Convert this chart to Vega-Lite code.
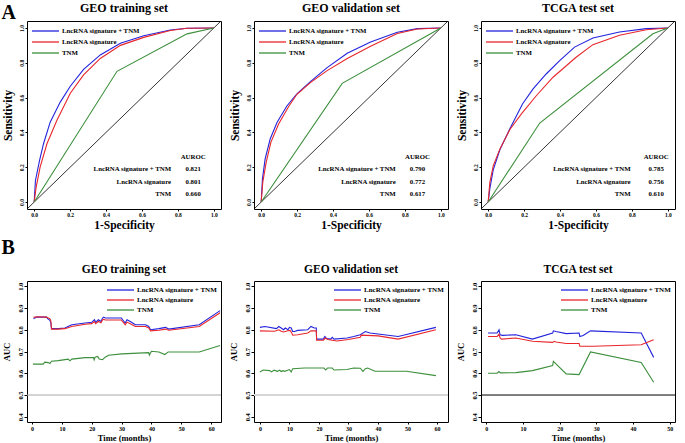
{
 "$schema": "https://vega.github.io/schema/vega-lite/v6.json",
 "background": "white",
 "padding": {"left": 1, "top": 1, "right": 2, "bottom": 1},
 "config": {
  "view": {"stroke": "black", "strokeWidth": 1},
  "font": "Liberation Serif",
  "axis": {"domain": false, "grid": false, "ticks": true, "tickColor": "black", "tickSize": 2, "labelPadding": 1, "labelOverlap": false, "labelFont": "Liberation Serif", "labelFontWeight": "bold", "labelColor": "black", "titleFont": "Liberation Serif", "titleFontWeight": "bold", "titleColor": "black"},
  "legend": {"symbolType": "M-1,0H4.4", "symbolSize": 100, "symbolStrokeWidth": 1.3, "labelFont": "Liberation Serif", "labelFontWeight": "bold", "labelFontSize": 6.8, "labelColor": "black", "labelOffset": 19, "rowPadding": 1, "padding": 0},
  "title": {"font": "Liberation Serif", "fontWeight": "bold", "fontSize": 12, "color": "black", "offset": 6},
  "text": {"font": "Liberation Serif", "fontWeight": "bold", "fontSize": 6.8, "color": "black", "baseline": "middle"}
 },
 "datasets": {
  "roc": [
   {"set": "GEO training set", "model": "LncRNA signature + TNM", "fpr": 0, "tpr": 0},
   {"set": "GEO training set", "model": "LncRNA signature + TNM", "fpr": 0.007, "tpr": 0.124},
   {"set": "GEO training set", "model": "LncRNA signature + TNM", "fpr": 0.03, "tpr": 0.239},
   {"set": "GEO training set", "model": "LncRNA signature + TNM", "fpr": 0.052, "tpr": 0.335},
   {"set": "GEO training set", "model": "LncRNA signature + TNM", "fpr": 0.089, "tpr": 0.459},
   {"set": "GEO training set", "model": "LncRNA signature + TNM", "fpr": 0.145, "tpr": 0.574},
   {"set": "GEO training set", "model": "LncRNA signature + TNM", "fpr": 0.201, "tpr": 0.665},
   {"set": "GEO training set", "model": "LncRNA signature + TNM", "fpr": 0.275, "tpr": 0.762},
   {"set": "GEO training set", "model": "LncRNA signature + TNM", "fpr": 0.368, "tpr": 0.845},
   {"set": "GEO training set", "model": "LncRNA signature + TNM", "fpr": 0.48, "tpr": 0.912},
   {"set": "GEO training set", "model": "LncRNA signature + TNM", "fpr": 0.61, "tpr": 0.955},
   {"set": "GEO training set", "model": "LncRNA signature + TNM", "fpr": 0.758, "tpr": 0.988},
   {"set": "GEO training set", "model": "LncRNA signature + TNM", "fpr": 0.851, "tpr": 0.998},
   {"set": "GEO training set", "model": "LncRNA signature + TNM", "fpr": 1, "tpr": 1},
   {"set": "GEO training set", "model": "LncRNA signature", "fpr": 0, "tpr": 0},
   {"set": "GEO training set", "model": "LncRNA signature", "fpr": 0.011, "tpr": 0.086},
   {"set": "GEO training set", "model": "LncRNA signature", "fpr": 0.033, "tpr": 0.201},
   {"set": "GEO training set", "model": "LncRNA signature", "fpr": 0.071, "tpr": 0.335},
   {"set": "GEO training set", "model": "LncRNA signature", "fpr": 0.126, "tpr": 0.468},
   {"set": "GEO training set", "model": "LncRNA signature", "fpr": 0.201, "tpr": 0.625},
   {"set": "GEO training set", "model": "LncRNA signature", "fpr": 0.275, "tpr": 0.73},
   {"set": "GEO training set", "model": "LncRNA signature", "fpr": 0.368, "tpr": 0.825},
   {"set": "GEO training set", "model": "LncRNA signature", "fpr": 0.48, "tpr": 0.9},
   {"set": "GEO training set", "model": "LncRNA signature", "fpr": 0.61, "tpr": 0.946},
   {"set": "GEO training set", "model": "LncRNA signature", "fpr": 0.758, "tpr": 0.985},
   {"set": "GEO training set", "model": "LncRNA signature", "fpr": 0.851, "tpr": 0.998},
   {"set": "GEO training set", "model": "LncRNA signature", "fpr": 1, "tpr": 1},
   {"set": "GEO training set", "model": "TNM", "fpr": 0, "tpr": 0},
   {"set": "GEO training set", "model": "TNM", "fpr": 0.461, "tpr": 0.751},
   {"set": "GEO training set", "model": "TNM", "fpr": 0.851, "tpr": 0.966},
   {"set": "GEO training set", "model": "TNM", "fpr": 1, "tpr": 1},
   {"set": "GEO validation set", "model": "LncRNA signature + TNM", "fpr": 0, "tpr": 0},
   {"set": "GEO validation set", "model": "LncRNA signature + TNM", "fpr": 0.007, "tpr": 0.133},
   {"set": "GEO validation set", "model": "LncRNA signature + TNM", "fpr": 0.022, "tpr": 0.248},
   {"set": "GEO validation set", "model": "LncRNA signature + TNM", "fpr": 0.05, "tpr": 0.362},
   {"set": "GEO validation set", "model": "LncRNA signature + TNM", "fpr": 0.088, "tpr": 0.457},
   {"set": "GEO validation set", "model": "LncRNA signature + TNM", "fpr": 0.143, "tpr": 0.552},
   {"set": "GEO validation set", "model": "LncRNA signature + TNM", "fpr": 0.199, "tpr": 0.622},
   {"set": "GEO validation set", "model": "LncRNA signature + TNM", "fpr": 0.274, "tpr": 0.692},
   {"set": "GEO validation set", "model": "LncRNA signature + TNM", "fpr": 0.367, "tpr": 0.772},
   {"set": "GEO validation set", "model": "LncRNA signature + TNM", "fpr": 0.479, "tpr": 0.855},
   {"set": "GEO validation set", "model": "LncRNA signature + TNM", "fpr": 0.609, "tpr": 0.92},
   {"set": "GEO validation set", "model": "LncRNA signature + TNM", "fpr": 0.758, "tpr": 0.975},
   {"set": "GEO validation set", "model": "LncRNA signature + TNM", "fpr": 0.87, "tpr": 0.996},
   {"set": "GEO validation set", "model": "LncRNA signature + TNM", "fpr": 1, "tpr": 1},
   {"set": "GEO validation set", "model": "LncRNA signature", "fpr": 0, "tpr": 0},
   {"set": "GEO validation set", "model": "LncRNA signature", "fpr": 0.009, "tpr": 0.114},
   {"set": "GEO validation set", "model": "LncRNA signature", "fpr": 0.028, "tpr": 0.229},
   {"set": "GEO validation set", "model": "LncRNA signature", "fpr": 0.054, "tpr": 0.343},
   {"set": "GEO validation set", "model": "LncRNA signature", "fpr": 0.097, "tpr": 0.448},
   {"set": "GEO validation set", "model": "LncRNA signature", "fpr": 0.153, "tpr": 0.549},
   {"set": "GEO validation set", "model": "LncRNA signature", "fpr": 0.199, "tpr": 0.619},
   {"set": "GEO validation set", "model": "LncRNA signature", "fpr": 0.274, "tpr": 0.686},
   {"set": "GEO validation set", "model": "LncRNA signature", "fpr": 0.367, "tpr": 0.755},
   {"set": "GEO validation set", "model": "LncRNA signature", "fpr": 0.479, "tpr": 0.825},
   {"set": "GEO validation set", "model": "LncRNA signature", "fpr": 0.609, "tpr": 0.895},
   {"set": "GEO validation set", "model": "LncRNA signature", "fpr": 0.758, "tpr": 0.968},
   {"set": "GEO validation set", "model": "LncRNA signature", "fpr": 0.87, "tpr": 0.994},
   {"set": "GEO validation set", "model": "LncRNA signature", "fpr": 1, "tpr": 1},
   {"set": "GEO validation set", "model": "TNM", "fpr": 0, "tpr": 0},
   {"set": "GEO validation set", "model": "TNM", "fpr": 0.451, "tpr": 0.682},
   {"set": "GEO validation set", "model": "TNM", "fpr": 1, "tpr": 1},
   {"set": "TCGA test set", "model": "LncRNA signature + TNM", "fpr": 0, "tpr": 0},
   {"set": "TCGA test set", "model": "LncRNA signature + TNM", "fpr": 0.009, "tpr": 0.075},
   {"set": "TCGA test set", "model": "LncRNA signature + TNM", "fpr": 0.028, "tpr": 0.185},
   {"set": "TCGA test set", "model": "LncRNA signature + TNM", "fpr": 0.065, "tpr": 0.3},
   {"set": "TCGA test set", "model": "LncRNA signature + TNM", "fpr": 0.12, "tpr": 0.419},
   {"set": "TCGA test set", "model": "LncRNA signature + TNM", "fpr": 0.191, "tpr": 0.563},
   {"set": "TCGA test set", "model": "LncRNA signature + TNM", "fpr": 0.25, "tpr": 0.65},
   {"set": "TCGA test set", "model": "LncRNA signature + TNM", "fpr": 0.324, "tpr": 0.737},
   {"set": "TCGA test set", "model": "LncRNA signature + TNM", "fpr": 0.398, "tpr": 0.812},
   {"set": "TCGA test set", "model": "LncRNA signature + TNM", "fpr": 0.481, "tpr": 0.89},
   {"set": "TCGA test set", "model": "LncRNA signature + TNM", "fpr": 0.583, "tpr": 0.942},
   {"set": "TCGA test set", "model": "LncRNA signature + TNM", "fpr": 0.731, "tpr": 0.977},
   {"set": "TCGA test set", "model": "LncRNA signature + TNM", "fpr": 0.88, "tpr": 0.996},
   {"set": "TCGA test set", "model": "LncRNA signature + TNM", "fpr": 1, "tpr": 1},
   {"set": "TCGA test set", "model": "LncRNA signature", "fpr": 0, "tpr": 0},
   {"set": "TCGA test set", "model": "LncRNA signature", "fpr": 0.009, "tpr": 0.112},
   {"set": "TCGA test set", "model": "LncRNA signature", "fpr": 0.028, "tpr": 0.208},
   {"set": "TCGA test set", "model": "LncRNA signature", "fpr": 0.065, "tpr": 0.304},
   {"set": "TCGA test set", "model": "LncRNA signature", "fpr": 0.12, "tpr": 0.415},
   {"set": "TCGA test set", "model": "LncRNA signature", "fpr": 0.185, "tpr": 0.506},
   {"set": "TCGA test set", "model": "LncRNA signature", "fpr": 0.269, "tpr": 0.612},
   {"set": "TCGA test set", "model": "LncRNA signature", "fpr": 0.361, "tpr": 0.717},
   {"set": "TCGA test set", "model": "LncRNA signature", "fpr": 0.491, "tpr": 0.833},
   {"set": "TCGA test set", "model": "LncRNA signature", "fpr": 0.583, "tpr": 0.904},
   {"set": "TCGA test set", "model": "LncRNA signature", "fpr": 0.731, "tpr": 0.958},
   {"set": "TCGA test set", "model": "LncRNA signature", "fpr": 0.88, "tpr": 0.99},
   {"set": "TCGA test set", "model": "LncRNA signature", "fpr": 1, "tpr": 1},
   {"set": "TCGA test set", "model": "TNM", "fpr": 0, "tpr": 0},
   {"set": "TCGA test set", "model": "TNM", "fpr": 0.287, "tpr": 0.454},
   {"set": "TCGA test set", "model": "TNM", "fpr": 0.917, "tpr": 0.967},
   {"set": "TCGA test set", "model": "TNM", "fpr": 1, "tpr": 1}
  ],
  "auroc": [
   {"set": "GEO training set", "model": "", "auroc": "AUROC"},
   {"set": "GEO training set", "model": "LncRNA signature + TNM", "auroc": "0.821"},
   {"set": "GEO training set", "model": "LncRNA signature", "auroc": "0.801"},
   {"set": "GEO training set", "model": "TNM", "auroc": "0.660"},
   {"set": "GEO validation set", "model": "", "auroc": "AUROC"},
   {"set": "GEO validation set", "model": "LncRNA signature + TNM", "auroc": "0.790"},
   {"set": "GEO validation set", "model": "LncRNA signature", "auroc": "0.772"},
   {"set": "GEO validation set", "model": "TNM", "auroc": "0.617"},
   {"set": "TCGA test set", "model": "", "auroc": "AUROC"},
   {"set": "TCGA test set", "model": "LncRNA signature + TNM", "auroc": "0.785"},
   {"set": "TCGA test set", "model": "LncRNA signature", "auroc": "0.756"},
   {"set": "TCGA test set", "model": "TNM", "auroc": "0.610"}
  ],
  "auc": [
   {"set": "GEO training set", "model": "LncRNA signature + TNM", "time": 0.5, "auc": 0.851},
   {"set": "GEO training set", "model": "LncRNA signature + TNM", "time": 1.5, "auc": 0.858},
   {"set": "GEO training set", "model": "LncRNA signature + TNM", "time": 4.8, "auc": 0.858},
   {"set": "GEO training set", "model": "LncRNA signature + TNM", "time": 5.4, "auc": 0.849},
   {"set": "GEO training set", "model": "LncRNA signature + TNM", "time": 6.0, "auc": 0.843},
   {"set": "GEO training set", "model": "LncRNA signature + TNM", "time": 6.3, "auc": 0.831},
   {"set": "GEO training set", "model": "LncRNA signature + TNM", "time": 6.5, "auc": 0.805},
   {"set": "GEO training set", "model": "LncRNA signature + TNM", "time": 8.8, "auc": 0.805},
   {"set": "GEO training set", "model": "LncRNA signature + TNM", "time": 11.0, "auc": 0.808},
   {"set": "GEO training set", "model": "LncRNA signature + TNM", "time": 13.3, "auc": 0.823},
   {"set": "GEO training set", "model": "LncRNA signature + TNM", "time": 17.8, "auc": 0.831},
   {"set": "GEO training set", "model": "LncRNA signature + TNM", "time": 20.0, "auc": 0.834},
   {"set": "GEO training set", "model": "LncRNA signature + TNM", "time": 20.9, "auc": 0.846},
   {"set": "GEO training set", "model": "LncRNA signature + TNM", "time": 21.3, "auc": 0.834},
   {"set": "GEO training set", "model": "LncRNA signature + TNM", "time": 22.2, "auc": 0.846},
   {"set": "GEO training set", "model": "LncRNA signature + TNM", "time": 23.1, "auc": 0.838},
   {"set": "GEO training set", "model": "LncRNA signature + TNM", "time": 23.6, "auc": 0.854},
   {"set": "GEO training set", "model": "LncRNA signature + TNM", "time": 24.0, "auc": 0.858},
   {"set": "GEO training set", "model": "LncRNA signature + TNM", "time": 24.5, "auc": 0.854},
   {"set": "GEO training set", "model": "LncRNA signature + TNM", "time": 29.9, "auc": 0.854},
   {"set": "GEO training set", "model": "LncRNA signature + TNM", "time": 31.2, "auc": 0.831},
   {"set": "GEO training set", "model": "LncRNA signature + TNM", "time": 31.8, "auc": 0.846},
   {"set": "GEO training set", "model": "LncRNA signature + TNM", "time": 32.9, "auc": 0.838},
   {"set": "GEO training set", "model": "LncRNA signature + TNM", "time": 34.6, "auc": 0.823},
   {"set": "GEO training set", "model": "LncRNA signature + TNM", "time": 38.0, "auc": 0.823},
   {"set": "GEO training set", "model": "LncRNA signature + TNM", "time": 39.1, "auc": 0.815},
   {"set": "GEO training set", "model": "LncRNA signature + TNM", "time": 39.7, "auc": 0.8},
   {"set": "GEO training set", "model": "LncRNA signature + TNM", "time": 42.5, "auc": 0.805},
   {"set": "GEO training set", "model": "LncRNA signature + TNM", "time": 44.7, "auc": 0.811},
   {"set": "GEO training set", "model": "LncRNA signature + TNM", "time": 45.8, "auc": 0.803},
   {"set": "GEO training set", "model": "LncRNA signature + TNM", "time": 56.0, "auc": 0.823},
   {"set": "GEO training set", "model": "LncRNA signature + TNM", "time": 63.0, "auc": 0.888},
   {"set": "GEO training set", "model": "LncRNA signature", "time": 0.5, "auc": 0.857},
   {"set": "GEO training set", "model": "LncRNA signature", "time": 1.5, "auc": 0.86},
   {"set": "GEO training set", "model": "LncRNA signature", "time": 4.8, "auc": 0.858},
   {"set": "GEO training set", "model": "LncRNA signature", "time": 6.0, "auc": 0.85},
   {"set": "GEO training set", "model": "LncRNA signature", "time": 6.3, "auc": 0.84},
   {"set": "GEO training set", "model": "LncRNA signature", "time": 6.5, "auc": 0.803},
   {"set": "GEO training set", "model": "LncRNA signature", "time": 8.8, "auc": 0.803},
   {"set": "GEO training set", "model": "LncRNA signature", "time": 11.0, "auc": 0.805},
   {"set": "GEO training set", "model": "LncRNA signature", "time": 13.3, "auc": 0.815},
   {"set": "GEO training set", "model": "LncRNA signature", "time": 17.8, "auc": 0.825},
   {"set": "GEO training set", "model": "LncRNA signature", "time": 20.0, "auc": 0.828},
   {"set": "GEO training set", "model": "LncRNA signature", "time": 20.9, "auc": 0.838},
   {"set": "GEO training set", "model": "LncRNA signature", "time": 21.3, "auc": 0.828},
   {"set": "GEO training set", "model": "LncRNA signature", "time": 22.2, "auc": 0.838},
   {"set": "GEO training set", "model": "LncRNA signature", "time": 23.1, "auc": 0.832},
   {"set": "GEO training set", "model": "LncRNA signature", "time": 23.6, "auc": 0.845},
   {"set": "GEO training set", "model": "LncRNA signature", "time": 24.0, "auc": 0.848},
   {"set": "GEO training set", "model": "LncRNA signature", "time": 24.5, "auc": 0.845},
   {"set": "GEO training set", "model": "LncRNA signature", "time": 29.9, "auc": 0.845},
   {"set": "GEO training set", "model": "LncRNA signature", "time": 31.2, "auc": 0.823},
   {"set": "GEO training set", "model": "LncRNA signature", "time": 31.8, "auc": 0.835},
   {"set": "GEO training set", "model": "LncRNA signature", "time": 32.9, "auc": 0.828},
   {"set": "GEO training set", "model": "LncRNA signature", "time": 34.6, "auc": 0.815},
   {"set": "GEO training set", "model": "LncRNA signature", "time": 38.0, "auc": 0.815},
   {"set": "GEO training set", "model": "LncRNA signature", "time": 39.1, "auc": 0.808},
   {"set": "GEO training set", "model": "LncRNA signature", "time": 39.7, "auc": 0.795},
   {"set": "GEO training set", "model": "LncRNA signature", "time": 42.5, "auc": 0.798},
   {"set": "GEO training set", "model": "LncRNA signature", "time": 44.7, "auc": 0.803},
   {"set": "GEO training set", "model": "LncRNA signature", "time": 45.8, "auc": 0.798},
   {"set": "GEO training set", "model": "LncRNA signature", "time": 56.0, "auc": 0.815},
   {"set": "GEO training set", "model": "LncRNA signature", "time": 63.0, "auc": 0.878},
   {"set": "GEO training set", "model": "TNM", "time": 0.3, "auc": 0.642},
   {"set": "GEO training set", "model": "TNM", "time": 3.7, "auc": 0.642},
   {"set": "GEO training set", "model": "TNM", "time": 4.3, "auc": 0.651},
   {"set": "GEO training set", "model": "TNM", "time": 5.4, "auc": 0.649},
   {"set": "GEO training set", "model": "TNM", "time": 6.0, "auc": 0.645},
   {"set": "GEO training set", "model": "TNM", "time": 6.5, "auc": 0.655},
   {"set": "GEO training set", "model": "TNM", "time": 8.8, "auc": 0.658},
   {"set": "GEO training set", "model": "TNM", "time": 12.1, "auc": 0.665},
   {"set": "GEO training set", "model": "TNM", "time": 12.7, "auc": 0.657},
   {"set": "GEO training set", "model": "TNM", "time": 13.3, "auc": 0.665},
   {"set": "GEO training set", "model": "TNM", "time": 17.8, "auc": 0.672},
   {"set": "GEO training set", "model": "TNM", "time": 20.6, "auc": 0.672},
   {"set": "GEO training set", "model": "TNM", "time": 20.8, "auc": 0.662},
   {"set": "GEO training set", "model": "TNM", "time": 21.1, "auc": 0.674},
   {"set": "GEO training set", "model": "TNM", "time": 22.0, "auc": 0.677},
   {"set": "GEO training set", "model": "TNM", "time": 22.5, "auc": 0.665},
   {"set": "GEO training set", "model": "TNM", "time": 23.6, "auc": 0.662},
   {"set": "GEO training set", "model": "TNM", "time": 24.5, "auc": 0.674},
   {"set": "GEO training set", "model": "TNM", "time": 25.6, "auc": 0.683},
   {"set": "GEO training set", "model": "TNM", "time": 30.1, "auc": 0.689},
   {"set": "GEO training set", "model": "TNM", "time": 39.1, "auc": 0.695},
   {"set": "GEO training set", "model": "TNM", "time": 39.3, "auc": 0.683},
   {"set": "GEO training set", "model": "TNM", "time": 40.0, "auc": 0.701},
   {"set": "GEO training set", "model": "TNM", "time": 42.5, "auc": 0.698},
   {"set": "GEO training set", "model": "TNM", "time": 44.5, "auc": 0.686},
   {"set": "GEO training set", "model": "TNM", "time": 45.6, "auc": 0.698},
   {"set": "GEO training set", "model": "TNM", "time": 56.0, "auc": 0.698},
   {"set": "GEO training set", "model": "TNM", "time": 63.0, "auc": 0.728},
   {"set": "GEO validation set", "model": "LncRNA signature + TNM", "time": 0.0, "auc": 0.811},
   {"set": "GEO validation set", "model": "LncRNA signature + TNM", "time": 1.7, "auc": 0.815},
   {"set": "GEO validation set", "model": "LncRNA signature + TNM", "time": 5.6, "auc": 0.805},
   {"set": "GEO validation set", "model": "LncRNA signature + TNM", "time": 6.4, "auc": 0.815},
   {"set": "GEO validation set", "model": "LncRNA signature + TNM", "time": 7.2, "auc": 0.808},
   {"set": "GEO validation set", "model": "LncRNA signature + TNM", "time": 8.0, "auc": 0.8},
   {"set": "GEO validation set", "model": "LncRNA signature + TNM", "time": 8.6, "auc": 0.808},
   {"set": "GEO validation set", "model": "LncRNA signature + TNM", "time": 9.5, "auc": 0.8},
   {"set": "GEO validation set", "model": "LncRNA signature + TNM", "time": 10.0, "auc": 0.811},
   {"set": "GEO validation set", "model": "LncRNA signature + TNM", "time": 10.6, "auc": 0.808},
   {"set": "GEO validation set", "model": "LncRNA signature + TNM", "time": 11.1, "auc": 0.792},
   {"set": "GEO validation set", "model": "LncRNA signature + TNM", "time": 11.7, "auc": 0.792},
   {"set": "GEO validation set", "model": "LncRNA signature + TNM", "time": 12.8, "auc": 0.797},
   {"set": "GEO validation set", "model": "LncRNA signature + TNM", "time": 16.2, "auc": 0.8},
   {"set": "GEO validation set", "model": "LncRNA signature + TNM", "time": 17.3, "auc": 0.815},
   {"set": "GEO validation set", "model": "LncRNA signature + TNM", "time": 18.4, "auc": 0.808},
   {"set": "GEO validation set", "model": "LncRNA signature + TNM", "time": 19.1, "auc": 0.808},
   {"set": "GEO validation set", "model": "LncRNA signature + TNM", "time": 19.2, "auc": 0.757},
   {"set": "GEO validation set", "model": "LncRNA signature + TNM", "time": 21.5, "auc": 0.757},
   {"set": "GEO validation set", "model": "LncRNA signature + TNM", "time": 22.0, "auc": 0.769},
   {"set": "GEO validation set", "model": "LncRNA signature + TNM", "time": 22.6, "auc": 0.759},
   {"set": "GEO validation set", "model": "LncRNA signature + TNM", "time": 24.0, "auc": 0.757},
   {"set": "GEO validation set", "model": "LncRNA signature + TNM", "time": 24.5, "auc": 0.765},
   {"set": "GEO validation set", "model": "LncRNA signature + TNM", "time": 25.1, "auc": 0.757},
   {"set": "GEO validation set", "model": "LncRNA signature + TNM", "time": 29.5, "auc": 0.762},
   {"set": "GEO validation set", "model": "LncRNA signature + TNM", "time": 31.8, "auc": 0.769},
   {"set": "GEO validation set", "model": "LncRNA signature + TNM", "time": 34.0, "auc": 0.777},
   {"set": "GEO validation set", "model": "LncRNA signature + TNM", "time": 35.7, "auc": 0.792},
   {"set": "GEO validation set", "model": "LncRNA signature + TNM", "time": 37.3, "auc": 0.785},
   {"set": "GEO validation set", "model": "LncRNA signature + TNM", "time": 46.8, "auc": 0.769},
   {"set": "GEO validation set", "model": "LncRNA signature + TNM", "time": 59.6, "auc": 0.811},
   {"set": "GEO validation set", "model": "LncRNA signature", "time": 0.0, "auc": 0.795},
   {"set": "GEO validation set", "model": "LncRNA signature", "time": 5.0, "auc": 0.793},
   {"set": "GEO validation set", "model": "LncRNA signature", "time": 6.4, "auc": 0.8},
   {"set": "GEO validation set", "model": "LncRNA signature", "time": 7.2, "auc": 0.793},
   {"set": "GEO validation set", "model": "LncRNA signature", "time": 8.0, "auc": 0.79},
   {"set": "GEO validation set", "model": "LncRNA signature", "time": 9.5, "auc": 0.795},
   {"set": "GEO validation set", "model": "LncRNA signature", "time": 10.2, "auc": 0.797},
   {"set": "GEO validation set", "model": "LncRNA signature", "time": 10.8, "auc": 0.785},
   {"set": "GEO validation set", "model": "LncRNA signature", "time": 11.1, "auc": 0.775},
   {"set": "GEO validation set", "model": "LncRNA signature", "time": 12.8, "auc": 0.777},
   {"set": "GEO validation set", "model": "LncRNA signature", "time": 16.2, "auc": 0.785},
   {"set": "GEO validation set", "model": "LncRNA signature", "time": 17.3, "auc": 0.795},
   {"set": "GEO validation set", "model": "LncRNA signature", "time": 19.1, "auc": 0.795},
   {"set": "GEO validation set", "model": "LncRNA signature", "time": 19.2, "auc": 0.752},
   {"set": "GEO validation set", "model": "LncRNA signature", "time": 21.5, "auc": 0.752},
   {"set": "GEO validation set", "model": "LncRNA signature", "time": 22.2, "auc": 0.762},
   {"set": "GEO validation set", "model": "LncRNA signature", "time": 23.0, "auc": 0.755},
   {"set": "GEO validation set", "model": "LncRNA signature", "time": 24.5, "auc": 0.752},
   {"set": "GEO validation set", "model": "LncRNA signature", "time": 26.0, "auc": 0.748},
   {"set": "GEO validation set", "model": "LncRNA signature", "time": 30.0, "auc": 0.755},
   {"set": "GEO validation set", "model": "LncRNA signature", "time": 34.0, "auc": 0.765},
   {"set": "GEO validation set", "model": "LncRNA signature", "time": 34.3, "auc": 0.775},
   {"set": "GEO validation set", "model": "LncRNA signature", "time": 40.0, "auc": 0.772},
   {"set": "GEO validation set", "model": "LncRNA signature", "time": 46.8, "auc": 0.757},
   {"set": "GEO validation set", "model": "LncRNA signature", "time": 59.6, "auc": 0.8},
   {"set": "GEO validation set", "model": "TNM", "time": 0.0, "auc": 0.606},
   {"set": "GEO validation set", "model": "TNM", "time": 1.1, "auc": 0.615},
   {"set": "GEO validation set", "model": "TNM", "time": 3.3, "auc": 0.612},
   {"set": "GEO validation set", "model": "TNM", "time": 3.9, "auc": 0.606},
   {"set": "GEO validation set", "model": "TNM", "time": 4.8, "auc": 0.614},
   {"set": "GEO validation set", "model": "TNM", "time": 5.9, "auc": 0.609},
   {"set": "GEO validation set", "model": "TNM", "time": 6.7, "auc": 0.614},
   {"set": "GEO validation set", "model": "TNM", "time": 7.2, "auc": 0.608},
   {"set": "GEO validation set", "model": "TNM", "time": 7.8, "auc": 0.612},
   {"set": "GEO validation set", "model": "TNM", "time": 8.4, "auc": 0.609},
   {"set": "GEO validation set", "model": "TNM", "time": 10.0, "auc": 0.617},
   {"set": "GEO validation set", "model": "TNM", "time": 10.6, "auc": 0.606},
   {"set": "GEO validation set", "model": "TNM", "time": 11.1, "auc": 0.621},
   {"set": "GEO validation set", "model": "TNM", "time": 15.1, "auc": 0.624},
   {"set": "GEO validation set", "model": "TNM", "time": 21.7, "auc": 0.624},
   {"set": "GEO validation set", "model": "TNM", "time": 22.3, "auc": 0.615},
   {"set": "GEO validation set", "model": "TNM", "time": 22.9, "auc": 0.624},
   {"set": "GEO validation set", "model": "TNM", "time": 24.5, "auc": 0.624},
   {"set": "GEO validation set", "model": "TNM", "time": 25.1, "auc": 0.615},
   {"set": "GEO validation set", "model": "TNM", "time": 29.5, "auc": 0.617},
   {"set": "GEO validation set", "model": "TNM", "time": 31.8, "auc": 0.624},
   {"set": "GEO validation set", "model": "TNM", "time": 34.0, "auc": 0.623},
   {"set": "GEO validation set", "model": "TNM", "time": 34.9, "auc": 0.609},
   {"set": "GEO validation set", "model": "TNM", "time": 35.7, "auc": 0.621},
   {"set": "GEO validation set", "model": "TNM", "time": 36.5, "auc": 0.624},
   {"set": "GEO validation set", "model": "TNM", "time": 39.0, "auc": 0.609},
   {"set": "GEO validation set", "model": "TNM", "time": 49.6, "auc": 0.609},
   {"set": "GEO validation set", "model": "TNM", "time": 59.6, "auc": 0.589},
   {"set": "TCGA test set", "model": "LncRNA signature + TNM", "time": 0.5, "auc": 0.785},
   {"set": "TCGA test set", "model": "LncRNA signature + TNM", "time": 3.0, "auc": 0.785},
   {"set": "TCGA test set", "model": "LncRNA signature + TNM", "time": 3.5, "auc": 0.8},
   {"set": "TCGA test set", "model": "LncRNA signature + TNM", "time": 3.8, "auc": 0.777},
   {"set": "TCGA test set", "model": "LncRNA signature + TNM", "time": 4.4, "auc": 0.774},
   {"set": "TCGA test set", "model": "LncRNA signature + TNM", "time": 8.1, "auc": 0.777},
   {"set": "TCGA test set", "model": "LncRNA signature + TNM", "time": 12.6, "auc": 0.757},
   {"set": "TCGA test set", "model": "LncRNA signature + TNM", "time": 18.1, "auc": 0.785},
   {"set": "TCGA test set", "model": "LncRNA signature + TNM", "time": 18.3, "auc": 0.795},
   {"set": "TCGA test set", "model": "LncRNA signature + TNM", "time": 19.0, "auc": 0.792},
   {"set": "TCGA test set", "model": "LncRNA signature + TNM", "time": 21.8, "auc": 0.782},
   {"set": "TCGA test set", "model": "LncRNA signature + TNM", "time": 25.3, "auc": 0.785},
   {"set": "TCGA test set", "model": "LncRNA signature + TNM", "time": 25.5, "auc": 0.769},
   {"set": "TCGA test set", "model": "LncRNA signature + TNM", "time": 26.4, "auc": 0.774},
   {"set": "TCGA test set", "model": "LncRNA signature + TNM", "time": 28.4, "auc": 0.795},
   {"set": "TCGA test set", "model": "LncRNA signature + TNM", "time": 42.2, "auc": 0.785},
   {"set": "TCGA test set", "model": "LncRNA signature + TNM", "time": 45.6, "auc": 0.673},
   {"set": "TCGA test set", "model": "LncRNA signature", "time": 0.5, "auc": 0.769},
   {"set": "TCGA test set", "model": "LncRNA signature", "time": 3.0, "auc": 0.769},
   {"set": "TCGA test set", "model": "LncRNA signature", "time": 3.5, "auc": 0.78},
   {"set": "TCGA test set", "model": "LncRNA signature", "time": 3.8, "auc": 0.762},
   {"set": "TCGA test set", "model": "LncRNA signature", "time": 4.2, "auc": 0.757},
   {"set": "TCGA test set", "model": "LncRNA signature", "time": 8.1, "auc": 0.762},
   {"set": "TCGA test set", "model": "LncRNA signature", "time": 12.6, "auc": 0.747},
   {"set": "TCGA test set", "model": "LncRNA signature", "time": 18.1, "auc": 0.742},
   {"set": "TCGA test set", "model": "LncRNA signature", "time": 18.6, "auc": 0.747},
   {"set": "TCGA test set", "model": "LncRNA signature", "time": 19.0, "auc": 0.744},
   {"set": "TCGA test set", "model": "LncRNA signature", "time": 21.8, "auc": 0.737},
   {"set": "TCGA test set", "model": "LncRNA signature", "time": 25.3, "auc": 0.737},
   {"set": "TCGA test set", "model": "LncRNA signature", "time": 25.5, "auc": 0.724},
   {"set": "TCGA test set", "model": "LncRNA signature", "time": 29.1, "auc": 0.724},
   {"set": "TCGA test set", "model": "LncRNA signature", "time": 42.2, "auc": 0.731},
   {"set": "TCGA test set", "model": "LncRNA signature", "time": 45.6, "auc": 0.754},
   {"set": "TCGA test set", "model": "TNM", "time": 0.5, "auc": 0.6},
   {"set": "TCGA test set", "model": "TNM", "time": 3.0, "auc": 0.6},
   {"set": "TCGA test set", "model": "TNM", "time": 3.5, "auc": 0.608},
   {"set": "TCGA test set", "model": "TNM", "time": 3.9, "auc": 0.602},
   {"set": "TCGA test set", "model": "TNM", "time": 8.1, "auc": 0.603},
   {"set": "TCGA test set", "model": "TNM", "time": 12.6, "auc": 0.612},
   {"set": "TCGA test set", "model": "TNM", "time": 18.1, "auc": 0.635},
   {"set": "TCGA test set", "model": "TNM", "time": 18.3, "auc": 0.655},
   {"set": "TCGA test set", "model": "TNM", "time": 21.8, "auc": 0.597},
   {"set": "TCGA test set", "model": "TNM", "time": 25.3, "auc": 0.594},
   {"set": "TCGA test set", "model": "TNM", "time": 28.4, "auc": 0.698},
   {"set": "TCGA test set", "model": "TNM", "time": 42.2, "auc": 0.65},
   {"set": "TCGA test set", "model": "TNM", "time": 45.6, "auc": 0.559}
  ]
 },
 "resolve": {"scale": {"color": "independent"}, "legend": {"color": "independent"}},
 "spacing": 6,
 "vconcat": [
  {
   "title": {"text": "A", "anchor": "start", "fontSize": 20, "offset": -22},
   "spacing": 33,
   "bounds": "flush",
   "resolve": {"scale": {"color": "independent"}, "legend": {"color": "independent"}},
   "hconcat": [
    {
     "width": 194, "height": 188,
     "title": {"text": "GEO training set"},
     "layer": [
      {"layer": [
       {"data": {"values": [{}]}, "mark": {"type": "rule", "color": "black", "strokeWidth": 0.8},
        "encoding": {"x": {"datum": -0.04, "title": "1-Specificity"}, "y": {"datum": -0.04, "title": "Sensitivity"}, "x2": {"datum": 1.04}, "y2": {"datum": 1.04}}},
       {"data": {"name": "roc"}, "transform": [{"filter": "datum.set === 'GEO training set'"}],
        "mark": {"type": "line", "strokeWidth": 1.1},
        "encoding": {
         "x": {"field": "fpr", "type": "quantitative", "title": "1-Specificity", "scale": {"domain": [-0.04, 1.04], "nice": false, "zero": false}, "axis": {"values": [0, 0.2, 0.4, 0.6, 0.8, 1], "tickCount": 20, "format": ".1f", "labelOverlap": false, "labelFontSize": 5.5, "titleFontSize": 11.5, "titlePadding": 2}},
         "y": {"field": "tpr", "type": "quantitative", "title": "Sensitivity", "scale": {"domain": [-0.04, 1.04], "nice": false, "zero": false}, "axis": {"values": [0, 0.2, 0.4, 0.6, 0.8, 1], "tickCount": 20, "format": ".1f", "labelOverlap": false, "labelAngle": -90, "labelFontSize": 5.5, "titleFontSize": 11.5, "titlePadding": 6}},
         "color": {"field": "model", "type": "nominal", "scale": {"domain": ["LncRNA signature + TNM", "LncRNA signature", "TNM"], "range": ["#2323dc", "#e8262b", "#3c8f3c"]}, "legend": {"orient": "top-left", "offset": 4, "title": null}}
        }}
      ]},
      {"data": {"name": "auroc"},
       "transform": [{"filter": "datum.set === 'GEO training set'"}, {"window": [{"op": "row_number", "as": "rank"}]}],
       "encoding": {"y": {"field": "rank", "type": "quantitative", "scale": {"domain": [5.22, -10.06], "nice": false, "zero": false}, "axis": null}},
       "layer": [
        {"mark": {"type": "text", "align": "right"}, "encoding": {"x": {"datum": 0.762, "title": "1-Specificity"}, "text": {"field": "model"}}},
        {"mark": {"type": "text", "align": "center"}, "encoding": {"x": {"datum": 0.885, "title": "1-Specificity"}, "text": {"field": "auroc"}}}
       ]}
     ],
     "resolve": {"scale": {"y": "independent"}}
    },
    {
     "width": 194, "height": 188,
     "title": {"text": "GEO validation set"},
     "layer": [
      {"layer": [
       {"data": {"values": [{}]}, "mark": {"type": "rule", "color": "black", "strokeWidth": 0.8},
        "encoding": {"x": {"datum": -0.04, "title": "1-Specificity"}, "y": {"datum": -0.04, "title": "Sensitivity"}, "x2": {"datum": 1.04}, "y2": {"datum": 1.04}}},
       {"data": {"name": "roc"}, "transform": [{"filter": "datum.set === 'GEO validation set'"}],
        "mark": {"type": "line", "strokeWidth": 1.1},
        "encoding": {
         "x": {"field": "fpr", "type": "quantitative", "title": "1-Specificity", "scale": {"domain": [-0.04, 1.04], "nice": false, "zero": false}, "axis": {"values": [0, 0.2, 0.4, 0.6, 0.8, 1], "tickCount": 20, "format": ".1f", "labelOverlap": false, "labelFontSize": 5.5, "titleFontSize": 11.5, "titlePadding": 2}},
         "y": {"field": "tpr", "type": "quantitative", "title": "Sensitivity", "scale": {"domain": [-0.04, 1.04], "nice": false, "zero": false}, "axis": {"values": [0, 0.2, 0.4, 0.6, 0.8, 1], "tickCount": 20, "format": ".1f", "labelOverlap": false, "labelAngle": -90, "labelFontSize": 5.5, "titleFontSize": 11.5, "titlePadding": 6}},
         "color": {"field": "model", "type": "nominal", "scale": {"domain": ["LncRNA signature + TNM", "LncRNA signature", "TNM"], "range": ["#2323dc", "#e8262b", "#3c8f3c"]}, "legend": {"orient": "top-left", "offset": 4, "title": null}}
        }}
      ]},
      {"data": {"name": "auroc"},
       "transform": [{"filter": "datum.set === 'GEO validation set'"}, {"window": [{"op": "row_number", "as": "rank"}]}],
       "encoding": {"y": {"field": "rank", "type": "quantitative", "scale": {"domain": [5.22, -10.06], "nice": false, "zero": false}, "axis": null}},
       "layer": [
        {"mark": {"type": "text", "align": "right"}, "encoding": {"x": {"datum": 0.749, "title": "1-Specificity"}, "text": {"field": "model"}}},
        {"mark": {"type": "text", "align": "center"}, "encoding": {"x": {"datum": 0.87, "title": "1-Specificity"}, "text": {"field": "auroc"}}}
       ]}
     ],
     "resolve": {"scale": {"y": "independent"}}
    },
    {
     "width": 194, "height": 188,
     "title": {"text": "TCGA test set"},
     "layer": [
      {"layer": [
       {"data": {"values": [{}]}, "mark": {"type": "rule", "color": "black", "strokeWidth": 0.8},
        "encoding": {"x": {"datum": -0.04, "title": "1-Specificity"}, "y": {"datum": -0.04, "title": "Sensitivity"}, "x2": {"datum": 1.04}, "y2": {"datum": 1.04}}},
       {"data": {"name": "roc"}, "transform": [{"filter": "datum.set === 'TCGA test set'"}],
        "mark": {"type": "line", "strokeWidth": 1.1},
        "encoding": {
         "x": {"field": "fpr", "type": "quantitative", "title": "1-Specificity", "scale": {"domain": [-0.04, 1.04], "nice": false, "zero": false}, "axis": {"values": [0, 0.2, 0.4, 0.6, 0.8, 1], "tickCount": 20, "format": ".1f", "labelOverlap": false, "labelFontSize": 5.5, "titleFontSize": 11.5, "titlePadding": 2}},
         "y": {"field": "tpr", "type": "quantitative", "title": "Sensitivity", "scale": {"domain": [-0.04, 1.04], "nice": false, "zero": false}, "axis": {"values": [0, 0.2, 0.4, 0.6, 0.8, 1], "tickCount": 20, "format": ".1f", "labelOverlap": false, "labelAngle": -90, "labelFontSize": 5.5, "titleFontSize": 11.5, "titlePadding": 6}},
         "color": {"field": "model", "type": "nominal", "scale": {"domain": ["LncRNA signature + TNM", "LncRNA signature", "TNM"], "range": ["#2323dc", "#e8262b", "#3c8f3c"]}, "legend": {"orient": "top-left", "offset": 4, "title": null}}
        }}
      ]},
      {"data": {"name": "auroc"},
       "transform": [{"filter": "datum.set === 'TCGA test set'"}, {"window": [{"op": "row_number", "as": "rank"}]}],
       "encoding": {"y": {"field": "rank", "type": "quantitative", "scale": {"domain": [5.22, -10.06], "nice": false, "zero": false}, "axis": null}},
       "layer": [
        {"mark": {"type": "text", "align": "right"}, "encoding": {"x": {"datum": 0.793, "title": "1-Specificity"}, "text": {"field": "model"}}},
        {"mark": {"type": "text", "align": "center"}, "encoding": {"x": {"datum": 0.935, "title": "1-Specificity"}, "text": {"field": "auroc"}}}
       ]}
     ],
     "resolve": {"scale": {"y": "independent"}}
    }
   ]
  },
  {
   "title": {"text": "B", "anchor": "start", "fontSize": 20, "offset": 5},
   "spacing": 33,
   "bounds": "flush",
   "resolve": {"scale": {"color": "independent"}, "legend": {"color": "independent"}},
   "hconcat": [
    {
     "width": 194, "height": 141,
     "title": {"text": "GEO training set", "fontSize": 11.5},
     "layer": [
      {"data": {"values": [{}]}, "mark": {"type": "rule", "color": "#a8a8a8", "strokeWidth": 1}, "encoding": {"y": {"datum": 0.5, "title": "AUC"}}},
      {"data": {"name": "auc"}, "transform": [{"filter": "datum.set === 'GEO training set'"}],
       "mark": {"type": "line", "strokeWidth": 1.1},
       "encoding": {
        "x": {"field": "time", "type": "quantitative", "title": "Time (months)", "scale": {"domain": [-1.7, 63.3], "nice": false, "zero": false}, "axis": {"values": [0, 10, 20, 30, 40, 50, 60], "tickCount": 20, "labelOverlap": false, "labelFontSize": 6, "titleFontSize": 8.5, "titlePadding": 2}},
        "y": {"field": "auc", "type": "quantitative", "title": "AUC", "scale": {"domain": [0.376, 1.024], "nice": false, "zero": false}, "axis": {"values": [0.4, 0.5, 0.6, 0.7, 0.8, 0.9, 1.0], "tickCount": 20, "format": ".1f", "labelOverlap": false, "labelAngle": -90, "labelFontSize": 6.5, "titleFontSize": 8.5, "titlePadding": 6, "tickSize": 3}},
        "color": {"field": "model", "type": "nominal", "scale": {"domain": ["LncRNA signature + TNM", "LncRNA signature", "TNM"], "range": ["#2323dc", "#e8262b", "#3c8f3c"]}, "legend": {"orient": "top-right", "offset": 3, "title": null, "labelFontSize": 7}}
       }}
     ]
    },
    {
     "width": 194, "height": 141,
     "title": {"text": "GEO validation  set", "fontSize": 11.5},
     "layer": [
      {"data": {"values": [{}]}, "mark": {"type": "rule", "color": "#d6d6d6", "strokeWidth": 2}, "encoding": {"y": {"datum": 0.5, "title": "AUC"}}},
      {"data": {"name": "auc"}, "transform": [{"filter": "datum.set === 'GEO validation set'"}],
       "mark": {"type": "line", "strokeWidth": 1.1},
       "encoding": {
        "x": {"field": "time", "type": "quantitative", "title": "Time (months)", "scale": {"domain": [-2, 63.7], "nice": false, "zero": false}, "axis": {"values": [0, 10, 20, 30, 40, 50, 60], "tickCount": 20, "labelOverlap": false, "labelFontSize": 6, "titleFontSize": 8.5, "titlePadding": 2}},
        "y": {"field": "auc", "type": "quantitative", "title": "AUC", "scale": {"domain": [0.376, 1.024], "nice": false, "zero": false}, "axis": {"values": [0.4, 0.5, 0.6, 0.7, 0.8, 0.9, 1.0], "tickCount": 20, "format": ".1f", "labelOverlap": false, "labelAngle": -90, "labelFontSize": 6.5, "titleFontSize": 8.5, "titlePadding": 6, "tickSize": 3}},
        "color": {"field": "model", "type": "nominal", "scale": {"domain": ["LncRNA signature + TNM", "LncRNA signature", "TNM"], "range": ["#2323dc", "#e8262b", "#3c8f3c"]}, "legend": {"orient": "top-right", "offset": 3, "title": null, "labelFontSize": 7}}
       }}
     ]
    },
    {
     "width": 194, "height": 141,
     "title": {"text": "TCGA test set", "fontSize": 11.5},
     "layer": [
      {"data": {"values": [{}]}, "mark": {"type": "rule", "color": "black", "strokeWidth": 1}, "encoding": {"y": {"datum": 0.5, "title": "AUC"}}},
      {"data": {"name": "auc"}, "transform": [{"filter": "datum.set === 'TCGA test set'"}],
       "mark": {"type": "line", "strokeWidth": 1.1},
       "encoding": {
        "x": {"field": "time", "type": "quantitative", "title": "Time (months)", "scale": {"domain": [-1.4, 51.4], "nice": false, "zero": false}, "axis": {"values": [0, 10, 20, 30, 40, 50], "tickCount": 20, "labelOverlap": false, "labelFontSize": 6, "titleFontSize": 8.5, "titlePadding": 2}},
        "y": {"field": "auc", "type": "quantitative", "title": "AUC", "scale": {"domain": [0.376, 1.024], "nice": false, "zero": false}, "axis": {"values": [0.4, 0.5, 0.6, 0.7, 0.8, 0.9, 1.0], "tickCount": 20, "format": ".1f", "labelOverlap": false, "labelAngle": -90, "labelFontSize": 6.5, "titleFontSize": 8.5, "titlePadding": 6, "tickSize": 3}},
        "color": {"field": "model", "type": "nominal", "scale": {"domain": ["LncRNA signature + TNM", "LncRNA signature", "TNM"], "range": ["#2323dc", "#e8262b", "#3c8f3c"]}, "legend": {"orient": "top-right", "offset": 3, "title": null, "labelFontSize": 7}}
       }}
     ]
    }
   ]
  }
 ]
}
